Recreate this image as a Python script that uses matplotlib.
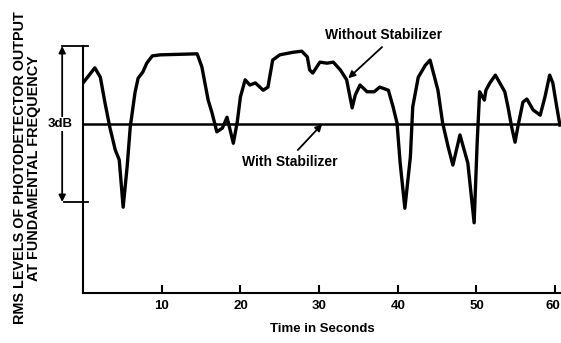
import matplotlib.pyplot as plt
import matplotlib.transforms as mtransforms

plt.rcParams['font.family'] = ['Liberation Sans', 'DejaVu Sans']
plt.rcParams['font.weight'] = 'bold'

# output level without stabilizer (dB relative to the stabilized level)
t_without = [0.0, 1.5, 2.2, 2.8, 3.4, 4.1, 4.6, 5.1, 5.6, 6.0, 6.6, 7.0, 7.6, 8.1,
             8.8, 9.8, 14.5, 15.1, 15.9, 16.4, 17.0, 17.7, 18.3, 19.1, 19.6, 20.0,
             20.6, 21.2, 21.9, 22.9, 23.5, 24.1, 25.0, 26.7, 27.8, 28.5, 28.8, 29.2,
             30.1, 31.0, 31.8, 32.7, 33.5, 34.2, 34.6, 35.2, 36.1, 37.0, 37.7, 38.8,
             39.4, 39.9, 40.3, 40.9, 41.6, 41.9, 42.6, 43.5, 44.1, 45.1, 45.7, 46.4,
             47.0, 47.9, 48.9, 49.7, 50.1, 50.4, 51.0, 51.2, 51.7, 52.4, 53.6, 54.0,
             54.5, 54.9, 55.3, 55.9, 56.4, 57.2, 58.1, 58.7, 59.3, 59.7, 60.2, 60.6]
without_stab = [0.79, 1.08, 0.90, 0.40, -0.06, -0.50, -0.69, -1.60, -0.83, -0.06, 0.60,
                0.88, 1.00, 1.17, 1.31, 1.33, 1.35, 1.10, 0.46, 0.21, -0.15, -0.08,
                0.13, -0.37, 0.04, 0.52, 0.85, 0.75, 0.79, 0.65, 0.71, 1.23, 1.33,
                1.38, 1.40, 1.29, 1.04, 0.98, 1.19, 1.17, 1.19, 1.04, 0.85, 0.31, 0.56,
                0.75, 0.62, 0.62, 0.71, 0.65, 0.33, 0.02, -0.75, -1.62, -0.63, 0.33,
                0.90, 1.13, 1.23, 0.65, 0.02, -0.44, -0.79, -0.21, -0.75, -1.90, -0.31,
                0.62, 0.46, 0.65, 0.79, 0.94, 0.62, 0.33, -0.08, -0.35, -0.02, 0.42,
                0.48, 0.27, 0.17, 0.52, 0.94, 0.79, 0.33, -0.02]

# output level with stabilizer
t_with = [0.0, 61.0]
with_stab = [0.0, 0.0]

xticks = [10, 20, 30, 40, 50, 60]

fig = plt.figure(figsize=(5.61, 3.43), dpi=100)
ax = fig.add_axes([0.148, 0.1458, 0.852, 0.8542])

ax.plot(t_with, with_stab, color='black', lw=1.8, solid_capstyle='butt')
ax.plot(t_without, without_stab, color='black', lw=2.4, solid_joinstyle='round')

ax.set_xlim(0, 60.74)
ax.set_ylim(-3.25, 2.385)

for s in ['top', 'right']:
    ax.spines[s].set_visible(False)
ax.spines['left'].set_bounds(-3.25, 1.5)
ax.spines['left'].set_linewidth(1.5)
ax.spines['bottom'].set_linewidth(1.5)
ax.set_yticks([])
ax.set_xticks(xticks)
ax.set_xticklabels([str(v) for v in xticks], fontsize=9.5, fontweight='bold')
ax.tick_params(axis='x', direction='in', length=6, width=1.5, pad=5)

# nudge the last label so it stays inside the image
last = ax.get_xticklabels()[-1]
last.set_transform(last.get_transform() +
                   mtransforms.ScaledTranslation(-2 / 72, 0, fig.dpi_scale_trans))

ax.set_xlabel('Time in Seconds', fontsize=9.5, fontweight='bold', labelpad=8)
fig.text(0.048, 0.51, 'RMS LEVELS OF PHOTODETECTOR OUTPUT\nAT FUNDAMENTAL FREQUENCY',
         rotation=90, ha='center', va='center', fontsize=10.4, fontweight='bold',
         linespacing=0.95)

# 3dB bracket
ax.plot([-2.7, 0.6], [1.5, 1.5], color='black', lw=1.3, clip_on=False)
ax.plot([-2.4, 0.6], [-1.5, -1.5], color='black', lw=1.3, clip_on=False)
ax.annotate('', xy=(-2.65, 1.5), xytext=(-2.65, -1.5), annotation_clip=False,
            arrowprops=dict(arrowstyle='<|-|>', color='black', lw=1.3,
                            mutation_scale=10, shrinkA=0, shrinkB=0))
ax.text(-2.9, 0.0, '3dB', ha='center', va='center', fontsize=9.5, fontweight='bold',
        bbox=dict(facecolor='white', edgecolor='none', pad=1), clip_on=False)

# labels with pointer arrows
ax.text(38.2, 1.72, 'Without Stabilizer', ha='center', va='center',
        fontsize=10, fontweight='bold', clip_on=False)
ax.annotate('', xy=(33.7, 0.88), xytext=(38.0, 1.48), annotation_clip=False,
            arrowprops=dict(arrowstyle='-|>', color='black', lw=1.3,
                            mutation_scale=10, shrinkA=0, shrinkB=0))
ax.text(26.3, -0.73, 'With Stabilizer', ha='center', va='center',
        fontsize=10, fontweight='bold', clip_on=False)
ax.annotate('', xy=(30.4, 0.0), xytext=(27.3, -0.5), annotation_clip=False,
            arrowprops=dict(arrowstyle='-|>', color='black', lw=1.3,
                            mutation_scale=10, shrinkA=0, shrinkB=0))

fig.savefig('out.png', dpi=100)
